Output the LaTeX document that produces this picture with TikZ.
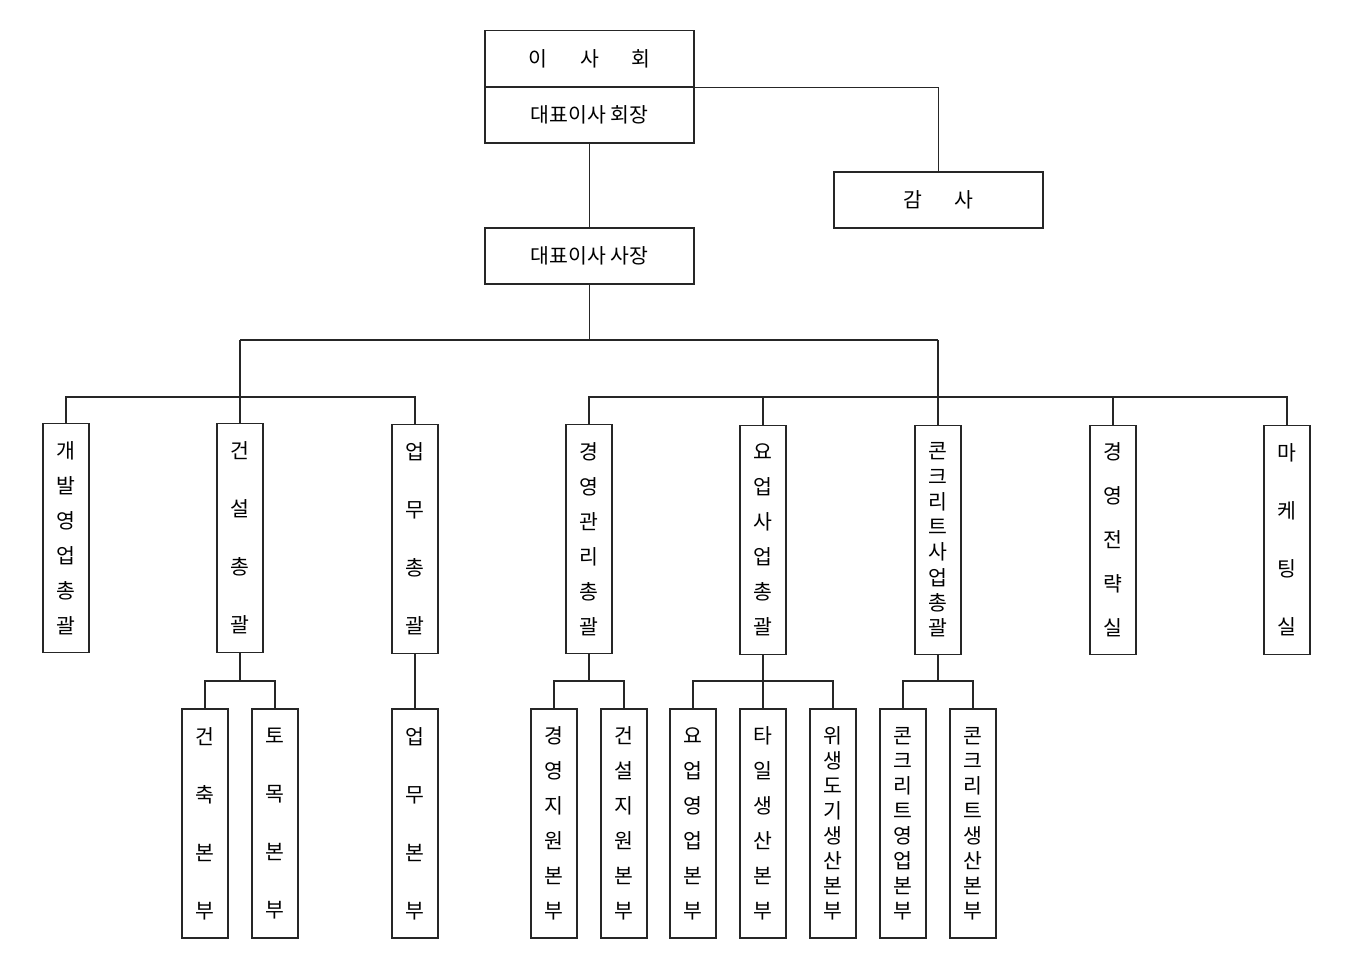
\documentclass[tikz,border=0pt]{standalone}
\usepackage{fontspec}
\newfontfamily\kfont{Noto Sans CJK KR}
\begin{document}
\begin{tikzpicture}[x=1pt,y=-1pt,
  hbox/.style={draw=black!85, line width=1.8pt, minimum width=209pt, minimum height=56pt, inner sep=0pt, font=\kfont\fontsize{20.5}{24}\selectfont},
  tall/.style={draw=black!85, line width=1.8pt, minimum width=46pt, minimum height=229pt, inner sep=0pt, align=center},
  sp/.style={font=\kfont\fontsize{20.5}{#1}\selectfont},
  conn/.style={draw=black!85, line width=1.8pt}
]
\useasboundingbox (0,0) rectangle (1346,961);
% top
\node[hbox] (board) at (589.5,58.5) {이\hspace{33pt}사\hspace{33pt}회};
\node[hbox] (chair) at (589.5,115) {대표이사\hspace{5pt}회장};
\node[hbox] (audit) at (938.5,200) {감\hspace{33pt}사};
\node[hbox] (ceo) at (589.5,256) {대표이사\hspace{5pt}사장};
% level 2
\node[tall,sp=35] (g1) at (66,538) {개\\발\\영\\업\\총\\괄};
\node[tall,sp=58] (g2) at (240,538) {건\\설\\총\\괄};
\node[tall,sp=58] (g3) at (415,539) {업\\무\\총\\괄};
\node[tall,sp=35] (g4) at (589,539) {경\\영\\관\\리\\총\\괄};
\node[tall,sp=35] (g5) at (763,540) {요\\업\\사\\업\\총\\괄};
\node[tall,sp=25.3] (g6) at (938,540) {콘\\크\\리\\트\\사\\업\\총\\괄};
\node[tall,sp=44] (g7) at (1113,540) {경\\영\\전\\략\\실};
\node[tall,sp=58] (g8) at (1287,540) {마\\케\\팅\\실};
% level 3
\node[tall,sp=58] (s1) at (205,823.5) {건\\축\\본\\부};
\node[tall,sp=58] (s2) at (275,823.5) {토\\목\\본\\부};
\node[tall,sp=58] (s3) at (415,823.5) {업\\무\\본\\부};
\node[tall,sp=35] (s4) at (554,823.5) {경\\영\\지\\원\\본\\부};
\node[tall,sp=35] (s5) at (624,823.5) {건\\설\\지\\원\\본\\부};
\node[tall,sp=35] (s6) at (693,823.5) {요\\업\\영\\업\\본\\부};
\node[tall,sp=35] (s7) at (763,823.5) {타\\일\\생\\산\\본\\부};
\node[tall,sp=25] (s8) at (833,823.5) {위\\생\\도\\기\\생\\산\\본\\부};
\node[tall,sp=25] (s9) at (903,823.5) {콘\\크\\리\\트\\영\\업\\본\\부};
\node[tall,sp=25] (s10) at (973,823.5) {콘\\크\\리\\트\\생\\산\\본\\부};
% bus coordinates
\coordinate (busL) at (240,340);
\coordinate (busR) at (938,340);
\coordinate (b2) at (0,397);
\coordinate (b3) at (0,681);
% connectors
\draw[conn] (board.south east) -| (audit.north);
\draw[conn] (chair.south) -- (ceo.north);
\draw[conn] (ceo.south) -- (ceo.south |- busL);
\draw[conn] (busL) -- (busR);
\draw[conn] (busL) -- (g2.north);
\draw[conn] (g1.north) |- (g3.north |- b2) -- (g3.north);
\draw[conn] (busR) -- (g6.north);
\draw[conn] (g4.north) |- (g8.north |- b2) -- (g8.north);
\draw[conn] (g5.north) -- (g5.north |- b2);
\draw[conn] (g7.north) -- (g7.north |- b2);
% level 3 connectors
\draw[conn] (g2.south) -- (g2.south |- b3);
\draw[conn] (s1.north) |- (s2.north |- b3) -- (s2.north);
\draw[conn] (g3.south) -- (s3.north);
\draw[conn] (g4.south) -- (g4.south |- b3);
\draw[conn] (s4.north) |- (s5.north |- b3) -- (s5.north);
\draw[conn] (g5.south) -- (s7.north);
\draw[conn] (s6.north) |- (s8.north |- b3) -- (s8.north);
\draw[conn] (g6.south) -- (g6.south |- b3);
\draw[conn] (s9.north) |- (s10.north |- b3) -- (s10.north);
\end{tikzpicture}
\end{document}
